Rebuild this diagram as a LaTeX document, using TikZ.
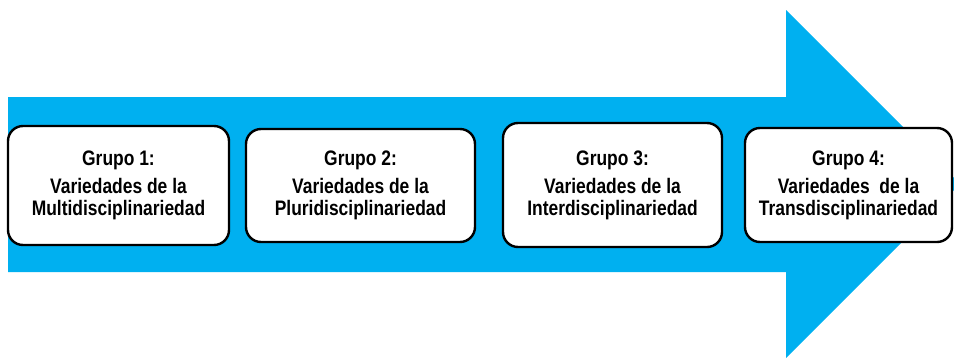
\documentclass[tikz,border=0pt]{standalone}
\usepackage{fontspec}
\setmainfont{Liberation Sans}[FakeStretch=0.83]
\definecolor{arrowblue}{HTML}{00B0F0}
\begin{document}
\begin{tikzpicture}[x=1pt,y=-1pt,
  grp/.style={draw=black, line width=2.4pt, fill=white, rounded corners=15pt,
    align=center, inner sep=0pt, font=\fontsize{21}{22}\selectfont\bfseries}]
\useasboundingbox (0,0) rectangle (954,357);
\fill[arrowblue] (8,97) -- (786,97) -- (786,10) -- (960,184) -- (786,358) -- (786,272) -- (8,272) -- cycle;
\node[grp, minimum width=221pt, minimum height=119pt] (g1) at (118.5,185.5)
  {Grupo 1:\\[6pt]Variedades de la\\Multidisciplinariedad};
\node[grp, minimum width=229pt, minimum height=113pt] (g2) at (360.5,185.5)
  {Grupo 2:\\[6pt]Variedades de la\\Pluridisciplinariedad};
\node[grp, minimum width=219pt, minimum height=124pt] (g3) at (612.5,185)
  {Grupo 3:\\[6pt]Variedades de la\\Interdisciplinariedad};
\node[grp, minimum width=207pt, minimum height=114pt] (g4) at (848.5,185)
  {Grupo 4:\\[6pt]Variedades\ \ de la\\Transdisciplinariedad};
\end{tikzpicture}
\end{document}
